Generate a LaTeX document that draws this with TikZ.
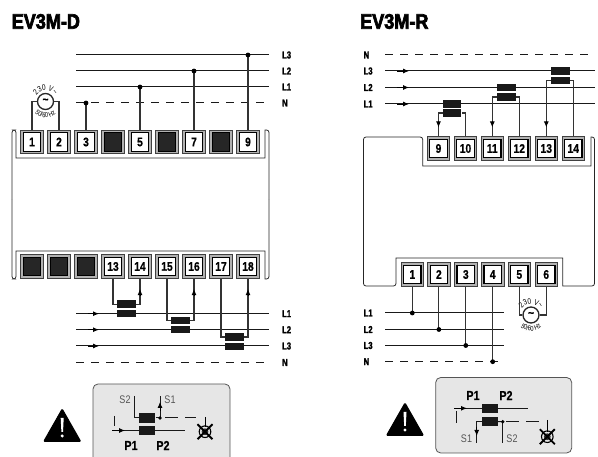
\documentclass[tikz,border=0pt]{standalone}
\usepackage{fontspec}
\setmainfont{Liberation Sans}
\newfontfamily\headf{Liberation Sans Bold}[FakeStretch=0.86,FakeBold=3.2]
\newfontfamily\busf{Liberation Sans Bold}[FakeStretch=0.76,FakeBold=2]
\newfontfamily\numf{Liberation Sans Bold}[FakeStretch=0.82,FakeBold=0.6]
\newfontfamily\thinf{Liberation Sans}[FakeStretch=0.82]
\usetikzlibrary{arrows.meta,decorations.text,calc}
\definecolor{wirec}{HTML}{333333}
\definecolor{panel}{HTML}{E6E6E6}
\definecolor{panelline}{HTML}{555555}
\definecolor{slabel}{HTML}{555555}
\tikzset{
  x=1pt,y=1pt,
  bus/.style={draw=black!90,line width=1pt},
  busdash/.style={bus,dash pattern=on 8pt off 7pt},
  wire/.style={draw=wirec,line width=1.1pt},
  body/.style={draw=black!85,line width=0.8pt,rounded corners=2.5pt},
  tiparrow/.style={draw=black,line width=0.9pt,-{Latex[length=6pt,width=5pt]}},
  dotmark/.style={circle,fill=black,inner sep=0pt,minimum size=4.8pt},
  termouter/.style={draw=black!75,fill=black!30,line width=0.7pt,minimum width=22.4pt,minimum height=23.5pt,inner sep=0pt},
  terminner/.style={draw=black,fill=white,line width=1.3pt,minimum width=17.4pt,minimum height=18.4pt,inner sep=0pt,font=\numf\fontsize{12.5}{12.5}\selectfont},
  termblack/.style={terminner,fill=black!85},
  ctblock/.style={fill=black!90,inner sep=0pt,minimum width=18.6pt,minimum height=7.6pt},
  ctsmall/.style={fill=black!90,inner sep=0pt,minimum width=16pt,minimum height=9.3pt},
  heading/.style={font=\headf\fontsize{21}{21}\selectfont,anchor=west,inner sep=0pt},
  buslabel/.style={font=\busf\fontsize{10}{10}\selectfont,anchor=west,inner sep=0pt},
  plabel/.style={font=\numf\fontsize{13}{13}\selectfont,inner sep=0pt},
  slab/.style={font=\thinf\fontsize{11}{11}\selectfont,text=slabel,inner sep=0pt},
  panelbox/.style={draw=panelline,fill=panel,line width=0.8pt,rounded corners=5pt},
  warn/.style={fill=black,draw=black,line width=1pt,line join=round,rounded corners=1pt},
  sourcec/.style={circle,draw=black!85,fill=white,line width=1.3pt,minimum size=16pt,inner sep=0pt,font=\numf\fontsize{12}{12}\selectfont},
}
\newcommand{\term}[4]{\node[termouter] (#1) at (#2,#3) {};\node[terminner] (#1i) at (#1) {#4};}
\newcommand{\termb}[3]{\node[termouter] (#1) at (#2,#3) {};\node[termblack] (#1i) at (#1) {};}
\newcommand{\warnsign}[3]{%
  \path[warn] (#1,#2) -- (#1+18.5,#2-32.5) -- (#1-18.5,#2-32.5) -- cycle;
  \fill[white] (#1-1.5,#2-9) -- (#1+1.5,#2-9) -- (#1+0.8,#2-23) -- (#1-0.8,#2-23) -- cycle;
  \fill[white] (#1,#2-27) circle (1.7);
}
\newcommand{\lampsym}[4]{% x, y of centre, top of stem y
  \draw[draw=black,line width=1pt] (#1,#3) -- (#1,#2+5);
  \draw[draw=black,line width=1.1pt] (#1,#2) circle (5.8);
  \fill[black!80] (#1,#2) circle (3.4);
  \draw[draw=black,line width=1.9pt] (#1-7.5,#2+7.5) -- (#1+7.5,#2-7.5) (#1-7.5,#2-7.5) -- (#1+7.5,#2+7.5);
}
\newcommand{\powersource}[3]{%
  \node[sourcec] (#1) at (#2,#3) {\raisebox{1pt}{\textasciitilde}};
  \path[postaction={decorate},decoration={text along path,text align=center,
     text={|\thinf\fontsize{8}{8}\selectfont|230 V{\textasciitilde}}}]
     ($(#1)+(172:11)$) arc[start angle=172,end angle=8,radius=11];
  \path[postaction={decorate},decoration={text along path,text align=center,
     text={|\thinf\fontsize{7}{7}\selectfont|50/60 Hz}}]
     ($(#1)+(195:16)$) arc[start angle=195,end angle=345,radius=16];
}
\begin{document}
\begin{tikzpicture}
\useasboundingbox (0,0) rectangle (598,-457);
\clip (0,0) rectangle (598,-457);
% ---------- LEFT ----------
\node[heading] (hL) at (11.5,-21.5) {EV3M-D};
\draw[body] (12,-200) -- (12,-130) -- (16,-130) [sharp corners] -- (16,-158) -- (265,-158) -- (265,-130) [rounded corners=2.5pt] -- (269,-130) -- (269,-200);
\draw[body] (12,-200) -- (12,-279) -- (16,-279) [sharp corners] -- (16,-251) -- (265,-251) -- (265,-279) [rounded corners=2.5pt] -- (269,-279) -- (269,-200);
\term{a1}{32}{-142}{1}\term{a2}{59}{-142}{2}\term{a3}{86}{-142}{3}
\termb{a4}{113}{-142}\term{a5}{140}{-142}{5}\termb{a6}{167}{-142}
\term{a7}{194}{-142}{7}\termb{a8}{221}{-142}\term{a9}{248}{-142}{9}
\foreach \n/\yy/\st/\txt in {T3/55/bus/L3,T2/71/bus/L2,T1/87/bus/L1,TN/103/busdash/N}{
  \coordinate (s\n) at (76,-\yy); \coordinate (e\n) at (269,-\yy);
  \draw[\st] (s\n) -- (e\n);
  \node[buslabel] (lb\n) at (282,-\yy) {\txt};
}
\foreach \t/\b in {a3/TN,a5/T1,a7/T2,a9/T3}{
  \draw[wire] (\t.north) -- (\t.north |- s\b);
  \node[dotmark] (d\t) at (\t.north |- s\b) {};
}
\powersource{srcL}{45.5}{-101.5}
\draw[wire] (a1.north) |- (srcL.west);
\draw[wire] (a2.north) |- (srcL.east);
% lower terminals
\termb{b1}{32}{-266.5}\termb{b2}{59}{-266.5}\termb{b3}{86}{-266.5}
\term{b13}{113}{-266.5}{13}\term{b14}{140}{-266.5}{14}\term{b15}{167}{-266.5}{15}
\term{b16}{194}{-266.5}{16}\term{b17}{221}{-266.5}{17}\term{b18}{248}{-266.5}{18}
\foreach \n/\yy/\st/\txt in {B1/313.7/bus/L1,B2/329.7/bus/L2,B3/346/bus/L3,BN/362.5/busdash/N}{
  \coordinate (s\n) at (76,-\yy); \coordinate (e\n) at (269,-\yy);
  \draw[\st] (s\n) -- (e\n);
  \node[buslabel] (lb\n) at (282,-\yy) {\txt};
}
\foreach \n in {B1,B2,B3}{\draw[tiparrow] ($(s\n)+(12,0)$) -- ($(s\n)+(23,0)$);}
\foreach \nn/\cx/\uy/\ly/\pa/\pb in {1/126.5/304.3/313.7/b13/b14,2/180.5/320.5/329.7/b15/b16,3/234.5/337/346.5/b17/b18}{
  \node[ctblock] (cu\nn) at (\cx,-\uy) {};
  \node[ctblock] (cl\nn) at (\cx,-\ly) {};
  \draw[wire] (\pa.south) |- (cu\nn.west);
  \draw[wire] (\pb.south) |- (cu\nn.east);
  \draw[tiparrow] ($(\pb.south)+(0,-17)$) -- ($(\pb.south)+(0,-10.5)$);
}
% left warning + inset
\warnsign{62.2}{-409}{}
\draw[panelbox] (93,-384) rectangle (230,-480);
\node[ctsmall] (pu1) at (147.3,-418) {};
\node[ctsmall] (pl1) at (147.3,-430.5) {};
\coordinate (pinA) at (112,-430.5); \coordinate (pinB) at (185,-430.5);
\draw[bus] (pinA) -- (pinB);
\draw[tiparrow] (pinA) -- ($(pinA)+(13,0)$);
\draw[bus] (114.3,-416) -- (114.3,-426.5);
\coordinate (s2a) at (134,-396);
\draw[bus] (s2a) |- (pu1.west);
\coordinate (s1a) at (160,-418);
\draw[bus] (pu1.east) -- (s1a);
\draw[bus] (s1a) -- (160,-396);
\draw[tiparrow] (160,-411) -- (160,-402);
\node[dotmark,minimum size=3.8pt] (dotp1) at (s1a) {};
\draw[bus,dash pattern=on 13pt off 7pt] (165,-418) -- (196,-418);
\lampsym{205}{-431.7}{-417}{}
\node[slab] (lS2) at (125,-400) {S2};
\node[slab] (lS1) at (170,-400) {S1};
\node[plabel] (lP1) at (131,-445.5) {P1};
\node[plabel] (lP2) at (163,-445.5) {P2};
% ---------- RIGHT ----------
\node[heading] (hR) at (360,-21.5) {EV3M-R};
\draw[body] (363.5,-200) -- (363.5,-137) -- (422.7,-137) [sharp corners] -- (422.7,-166) -- (591,-166) -- (591,-137) [rounded corners=2.5pt] -- (594.5,-137) -- (594.5,-200);
\draw[body] (363.5,-200) -- (363.5,-286) -- (396,-286) [sharp corners] -- (396,-258) -- (562.7,-258) -- (562.7,-286) [rounded corners=2.5pt] -- (594.5,-286) -- (594.5,-200);
\term{r9}{438.5}{-148.5}{9}\term{r10}{465.5}{-148.5}{10}\term{r11}{492.3}{-148.5}{11}
\term{r12}{519.3}{-148.5}{12}\term{r13}{546.3}{-148.5}{13}\term{r14}{573.3}{-148.5}{14}
\foreach \n/\yy/\st/\txt in {N/55/busdash/N,C/71/bus/L3,B/87.5/bus/L2,A/104/bus/L1}{
  \coordinate (s\n) at (385,-\yy); \coordinate (e\n) at (594.5,-\yy);
  \draw[\st] (s\n) -- (e\n);
  \node[buslabel] (lb\n) at (363.5,-\yy) {\txt};
}
\foreach \n in {A,B,C}{\draw[tiparrow] ($(s\n)+(12,0)$) -- ($(s\n)+(24,0)$);}
\foreach \nn/\cx/\uy/\ly/\pa/\pb in {1/452/104/113/r9/r10,2/506.5/87.5/97/r11/r12,3/560.3/71/80.5/r13/r14}{
  \node[ctblock] (ru\nn) at (\cx,-\uy) {};
  \node[ctblock] (rl\nn) at (\cx,-\ly) {};
  \draw[wire] (\pa.north) |- (rl\nn.west);
  \draw[wire] (\pb.north) |- (rl\nn.east);
  \draw[tiparrow] ($(\pa.north)+(0,15)$) -- ($(\pa.north)+(0,9)$);
}
\term{q1}{412.3}{-274.5}{1}\term{q2}{438.9}{-274.5}{2}\term{q3}{465.8}{-274.5}{3}
\term{q4}{492.7}{-274.5}{4}\term{q5}{519.3}{-274.5}{5}\term{q6}{546.2}{-274.5}{6}
\foreach \n/\yy/\st/\txt in {P/313/bus/L1,Q/329.5/bus/L2,R/345.5/bus/L3,S/361.7/busdash/N}{
  \coordinate (s\n) at (385,-\yy); \coordinate (e\n) at (504,-\yy);
  \draw[\st] (s\n) -- (e\n);
  \node[buslabel] (lb\n) at (363.5,-\yy) {\txt};
}
\foreach \t/\b in {q1/P,q2/Q,q3/R,q4/S}{
  \draw[wire] (\t.south) -- (\t.south |- s\b);
  \node[dotmark] (d\t) at (\t.south |- s\b) {};
}
\powersource{srcR}{531}{-315}
\draw[wire] (q5.south) |- (srcR.west);
\draw[wire] (q6.south) |- (srcR.east);
% right warning + inset
\warnsign{405}{-403}{}
\draw[panelbox] (435.7,-377.5) rectangle (571.7,-453);
\node[ctsmall] (pu2) at (489.7,-408.5) {};
\node[ctsmall] (pl2) at (489.7,-421.5) {};
\coordinate (qinA) at (454,-408.3); \coordinate (qinB) at (527.7,-408.3);
\draw[bus] (qinA) -- (qinB);
\draw[tiparrow] (qinA) -- ($(qinA)+(13,0)$);
\draw[bus] (456.7,-411) -- (456.7,-423);
\coordinate (s1b) at (476.7,-443);
\draw[bus] (s1b) |- (pl2.west);
\draw[tiparrow] (476.7,-427) -- (476.7,-436);
\coordinate (s2b) at (502.7,-421.7);
\draw[bus] (pl2.east) -- (s2b);
\draw[bus] (s2b) -- (502.7,-443);
\node[dotmark,minimum size=3.8pt] (dotp2) at (s2b) {};
\draw[bus,dash pattern=on 13pt off 7pt] (506,-421.7) -- (540,-421.7);
\lampsym{547.3}{-436.7}{-420}{}
\node[slab] (rS1) at (466.5,-438.5) {S1};
\node[slab] (rS2) at (512,-438.5) {S2};
\node[plabel] (rP1) at (473,-395.5) {P1};
\node[plabel] (rP2) at (506,-395.5) {P2};
\end{tikzpicture}
\end{document}
